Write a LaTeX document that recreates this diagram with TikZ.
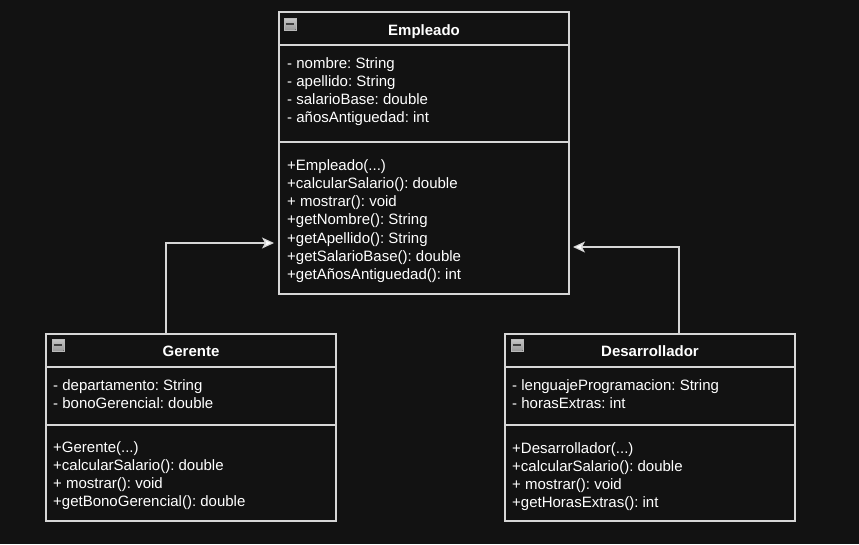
\documentclass[tikz,border=0pt]{standalone}
\usepackage{fontspec}
\setmainfont{Liberation Sans}
\usetikzlibrary{positioning,arrows.meta}
\frenchspacing

\definecolor{bgcol}{RGB}{18,18,18}
\definecolor{linecol}{RGB}{214,214,214}

\tikzset{
  cls/.style={draw=linecol, fill=bgcol, line width=1.2pt, minimum width=290pt,
    inner sep=0pt, outer sep=0pt},
  title/.style={text=white, font=\fontsize{15}{18.3}\selectfont\bfseries, inner sep=0pt, anchor=base},
  member/.style={text=white, font=\fontsize{15}{18.3}\selectfont, align=left,
    inner sep=0pt, anchor=north west},
  icon/.style={anchor=north west, minimum size=11.5pt, inner sep=0pt, draw=gray!55,
    top color=gray!45, bottom color=gray!80,
    path picture={\draw[black!75, line width=1.6pt]
      ([xshift=1.5pt]path picture bounding box.west) -- ([xshift=-1.5pt]path picture bounding box.east);}},
  inherit/.style={draw=linecol, line width=1.2pt, -{Stealth[length=12pt,width=11pt,inset=3pt,fill=white]}}
}

\begin{document}
\begin{tikzpicture}[x=1pt,y=-1pt]
  \fill[bgcol] (0,0) rectangle (859,544);
  \useasboundingbox (0,0) rectangle (859,544);

  % Empleado
  \node[cls, anchor=north west, minimum height=33pt] at (279,12) (empH) {};
  \node[cls, minimum height=97pt, below=0pt of empH] (empA) {};
  \node[cls, minimum height=152pt, below=0pt of empA] (empM) {};
  \node[icon] at ([xshift=5pt,yshift=-6pt]empH.north west) (empIcon) {};
  \node[title] at ([yshift=-23pt]empH.north) (empT) {Empleado};
  \node[member] at ([xshift=8pt,yshift=-12pt]empA.north west) (empAt) {- nombre: String\\- apellido: String\\- salarioBase: double\\- añosAntiguedad: int};
  \node[member] at ([xshift=8pt,yshift=-17pt]empM.north west) (empMt) {+Empleado(...)\\+calcularSalario(): double\\+ mostrar(): void\\+getNombre(): String\\+getApellido(): String\\+getSalarioBase(): double\\+getAñosAntiguedad(): int};

  % Gerente
  \node[cls, anchor=north west, minimum height=33pt] at (46,334) (gerH) {};
  \node[cls, minimum height=58pt, below=0pt of gerH] (gerA) {};
  \node[cls, minimum height=96pt, below=0pt of gerA] (gerM) {};
  \node[icon] at ([xshift=6pt,yshift=-5pt]gerH.north west) (gerIcon) {};
  \node[title] at ([yshift=-22pt]gerH.north) (gerT) {Gerente};
  \node[member] at ([xshift=7pt,yshift=-12pt]gerA.north west) (gerAt) {- departamento: String\\- bonoGerencial: double};
  \node[member] at ([xshift=7pt,yshift=-16pt]gerM.north west) (gerMt) {+Gerente(...)\\+calcularSalario(): double\\+ mostrar(): void\\+getBonoGerencial(): double};

  % Desarrollador
  \node[cls, anchor=north west, minimum height=33pt] at (505,334) (devH) {};
  \node[cls, minimum height=58pt, below=0pt of devH] (devA) {};
  \node[cls, minimum height=96pt, below=0pt of devA] (devM) {};
  \node[icon] at ([xshift=6pt,yshift=-5pt]devH.north west) (devIcon) {};
  \node[title] at ([yshift=-22pt]devH.north) (devT) {Desarrollador};
  \node[member] at ([xshift=7pt,yshift=-12pt]devA.north west) (devAt) {- lenguajeProgramacion: String\\- horasExtras: int};
  \node[member] at ([xshift=7pt,yshift=-17pt]devM.north west) (devMt) {+Desarrollador(...)\\+calcularSalario(): double\\+ mostrar(): void\\+getHorasExtras(): int};

  % herencia
  \draw[inherit, shorten >=5pt] ([xshift=-25pt]gerH.north) |- ([yshift=-25pt]empM.west);
  \draw[inherit, shorten >=4pt] ([xshift=29pt]devH.north) |- ([yshift=-29pt]empM.east);
\end{tikzpicture}
\end{document}
